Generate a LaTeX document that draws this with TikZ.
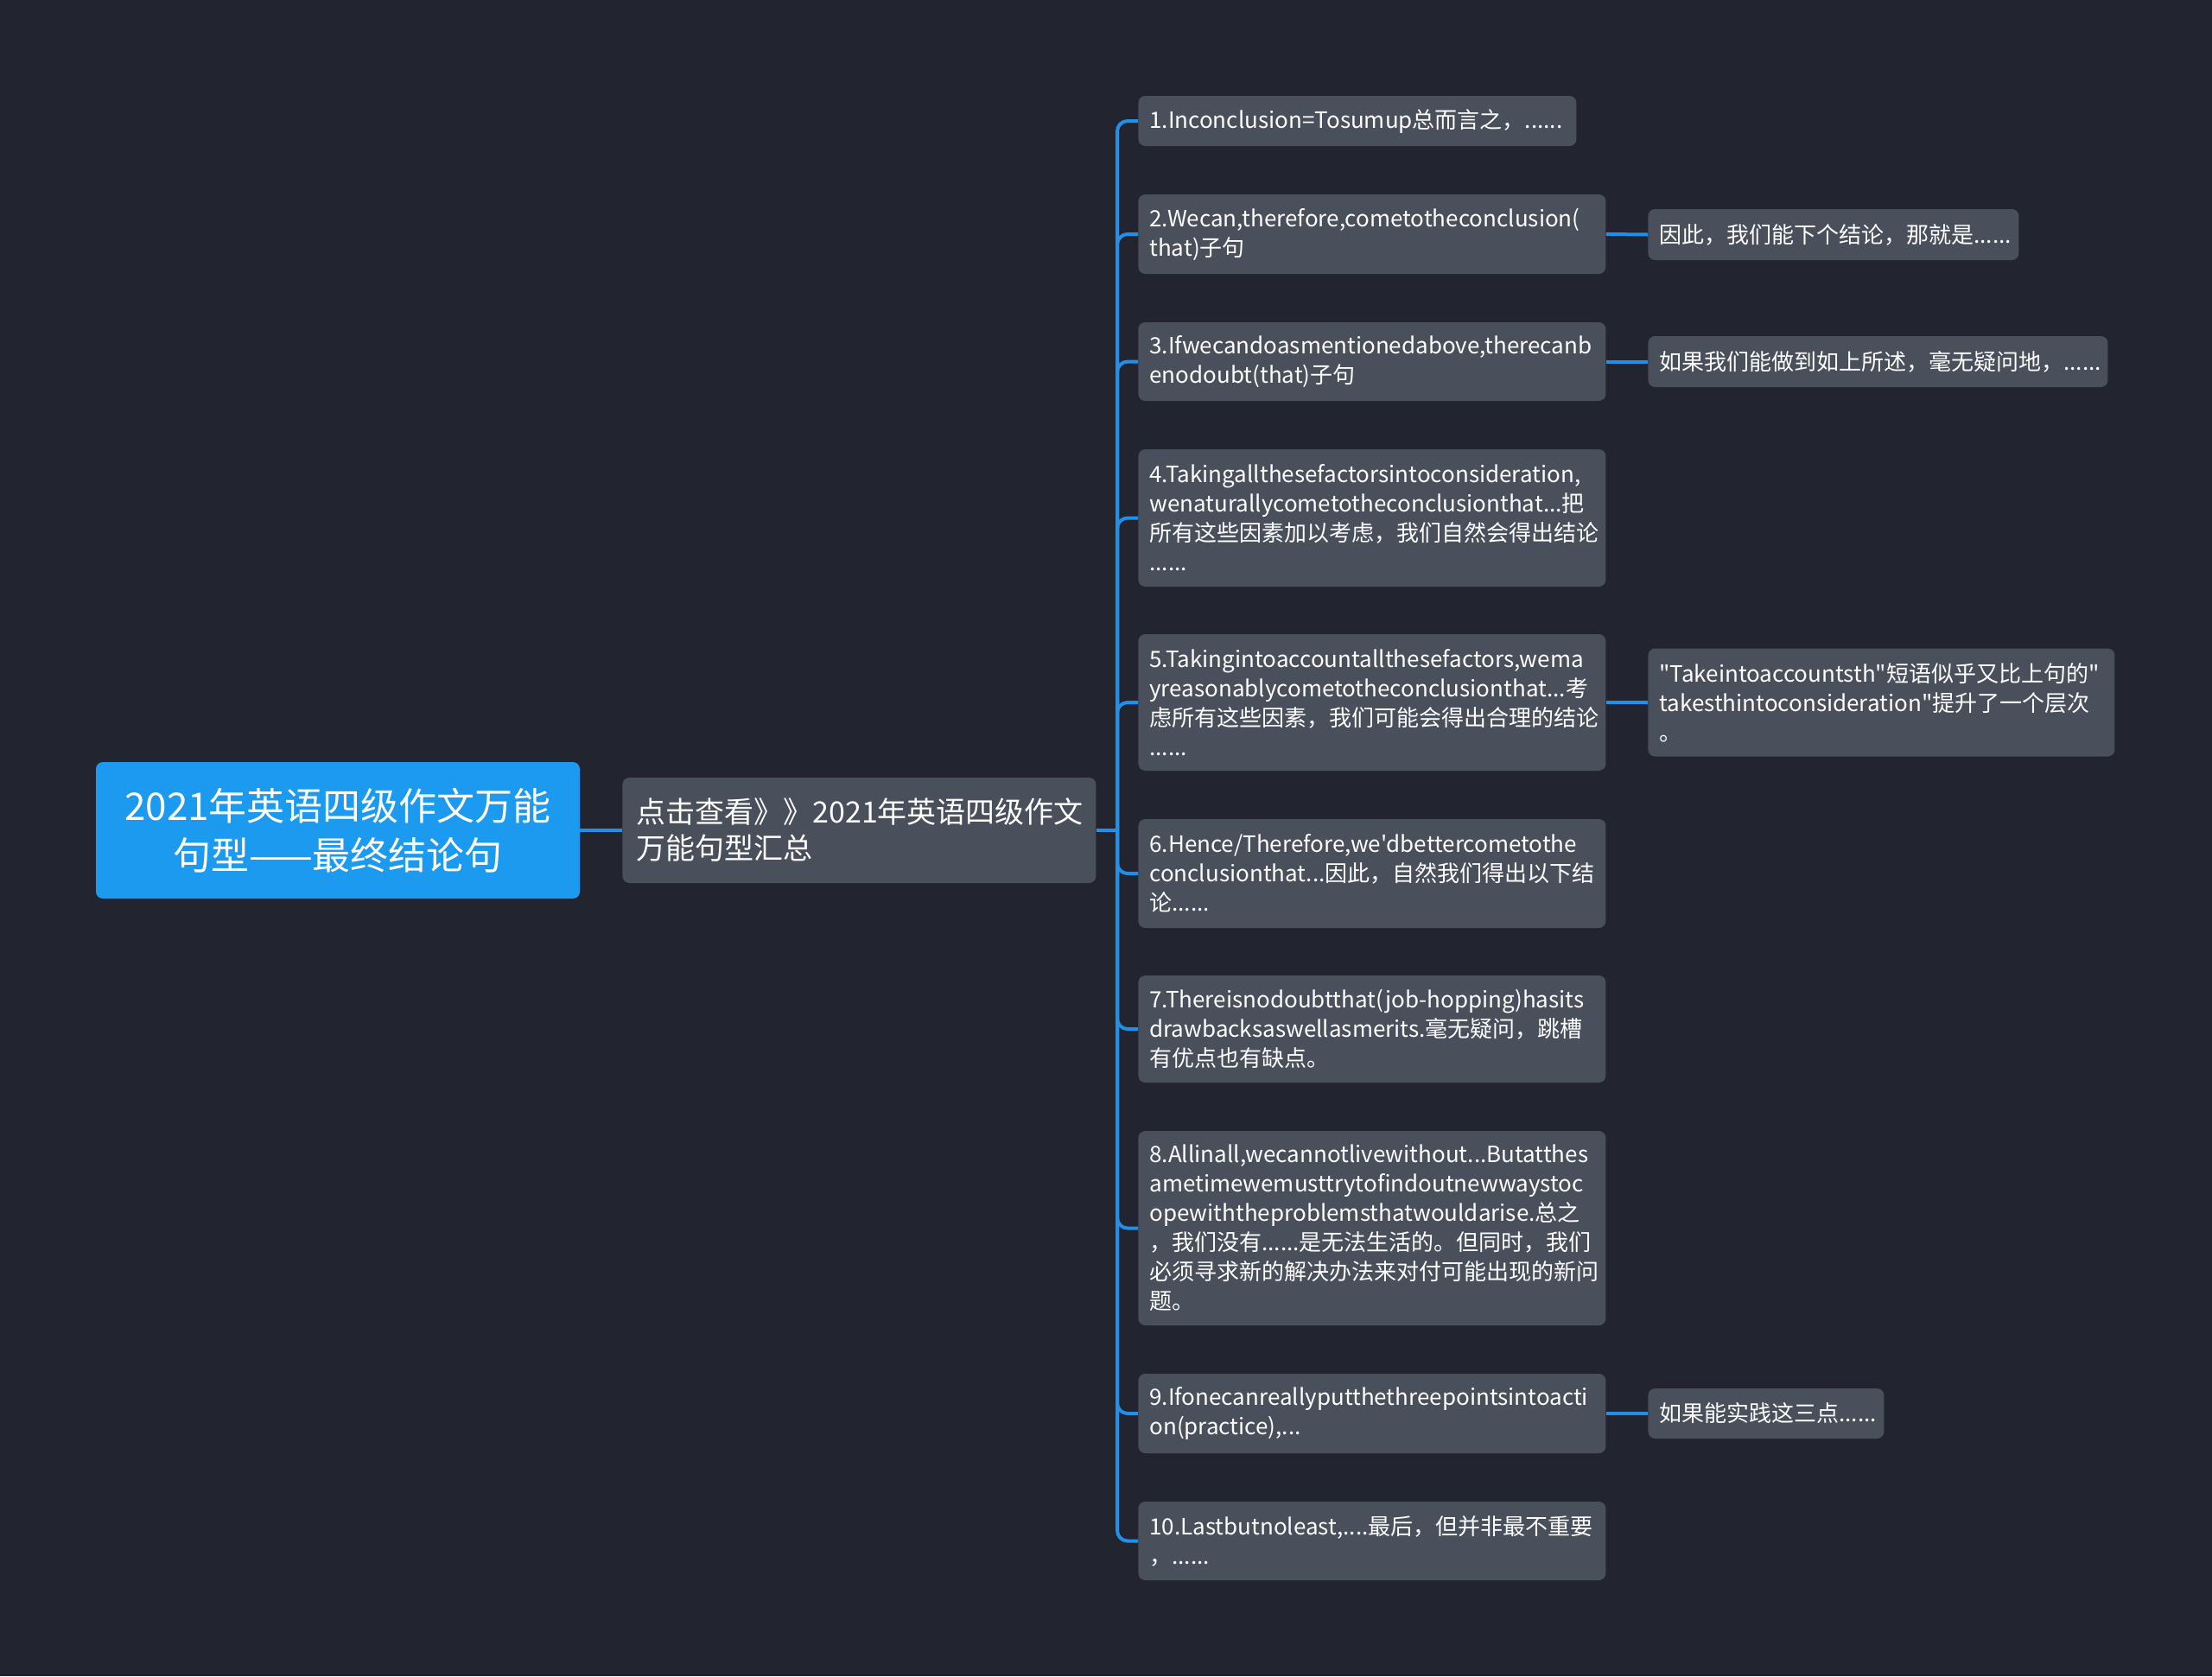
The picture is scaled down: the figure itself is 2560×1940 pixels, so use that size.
\documentclass[tikz,border=0pt]{standalone}
\usepackage{fontspec}
\setmainfont{Noto Sans CJK SC}[Ligatures=TeXOff]
\definecolor{bgc}{RGB}{34,37,48}
\definecolor{nodec}{RGB}{74,79,92}
\definecolor{rootc}{RGB}{27,154,240}
\definecolor{linec}{RGB}{32,144,232}
\tikzset{
  conn/.style={draw=linec, line width=2pt, rounded corners=6pt},
  rootbox/.style={fill=rootc, rounded corners=4pt, text=white, align=center,
    font=\fontsize{22pt}{28.5pt}\selectfont, minimum width=280pt, minimum height=79pt, inner sep=0pt},
  midbox/.style={fill=nodec, rounded corners=4pt, text=white, align=left,
    font=\fontsize{17pt}{21pt}\selectfont, text width=258pt, inner xsep=8pt, minimum height=61pt, anchor=west},
  cbox/.style={fill=nodec, rounded corners=4pt, text=white, align=left,
    font=\fontsize{13pt}{17pt}\selectfont, inner xsep=6.5pt, inner ysep=0pt, anchor=west},
}
\begin{document}
\begin{tikzpicture}[x=0.5pt,y=-0.5pt]
\fill[bgc] (0,0) rectangle (2560,1940);
\useasboundingbox (0,0) rectangle (2560,1940);

\node[rootbox] (root) at (391,961) {2021年英语四级作文万能\\句型——最终结论句};
\node[midbox] (mid) at (720,961) {点击查看》》2021年英语四级作文\\万能句型汇总};
\coordinate (sp) at (1293,961);

\node[cbox, text width=240.5pt, minimum height=29pt] (c1) at (1317,140) {1.Inconclusion=Tosumup总而言之，......};
\node[cbox, text width=257.5pt, minimum height=46pt] (c2) at (1317,271) {2.Wecan,therefore,cometotheconclusion(\\that)子句};
\node[cbox, text width=257.5pt, minimum height=45.5pt] (c3) at (1317,418.5) {3.Ifwecandoasmentionedabove,therecanb\\enodoubt(that)子句};
\node[cbox, text width=257.5pt, minimum height=79.5pt] (c4) at (1317,599.5) {4.Takingallthesefactorsintoconsideration,\\wenaturallycometotheconclusionthat...把\\所有这些因素加以考虑，我们自然会得出结论\\......};
\node[cbox, text width=257.5pt, minimum height=79pt] (c5) at (1317,813) {5.Takingintoaccountallthesefactors,wema\\yreasonablycometotheconclusionthat...考\\虑所有这些因素，我们可能会得出合理的结论\\......};
\node[cbox, text width=257.5pt, minimum height=63pt] (c6) at (1317,1011) {6.Hence/Therefore,we'dbettercometothe\\conclusionthat...因此，自然我们得出以下结\\论......};
\node[cbox, text width=257.5pt, minimum height=62pt] (c7) at (1317,1191) {7.Thereisnodoubtthat(job-hopping)hasits\\drawbacksaswellasmerits.毫无疑问，跳槽\\有优点也有缺点。};
\node[cbox, text width=257.5pt, minimum height=112.5pt] (c8) at (1317,1421.5) {8.Allinall,wecannotlivewithout...Butatthes\\ametimewemusttrytofindoutnewwaystoc\\opewiththeproblemsthatwouldarise.总之\\，我们没有......是无法生活的。但同时，我们\\必须寻求新的解决办法来对付可能出现的新问\\题。};
\node[cbox, text width=257.5pt, minimum height=46pt] (c9) at (1317,1636) {9.Ifonecanreallyputthethreepointsintoacti\\on(practice),...};
\node[cbox, text width=257.5pt, minimum height=45.5pt] (c10) at (1317,1783.5) {10.Lastbutnoleast,....最后，但并非最不重要\\，......};

\node[cbox, text width=201.5pt, minimum height=29.5pt] (g2) at (1907,271.5) {因此，我们能下个结论，那就是......};
\node[cbox, text width=253pt, minimum height=29.5pt] (g3) at (1907,418.5) {如果我们能做到如上所述，毫无疑问地，......};
\node[cbox, text width=257pt, minimum height=62.5pt] (g5) at (1907,813) {"Takeintoaccountsth"短语似乎又比上句的"\\takesthintoconsideration"提升了一个层次\\。};
\node[cbox, text width=123.5pt, minimum height=29pt] (g9) at (1907,1636) {如果能实践这三点......};

\draw[conn] (root.east) -- (mid.west);
\draw[conn] (mid.east) -- (sp);
\foreach \c in {c1,c2,c3,c4,c5,c6,c7,c8,c9,c10}{
  \draw[conn] (sp) |- (\c.west);
}
\draw[conn] (c2.east) -- (g2.west);
\draw[conn] (c3.east) -- (g3.west);
\draw[conn] (c5.east) -- (g5.west);
\draw[conn] (c9.east) -- (g9.west);
\end{tikzpicture}
\end{document}
